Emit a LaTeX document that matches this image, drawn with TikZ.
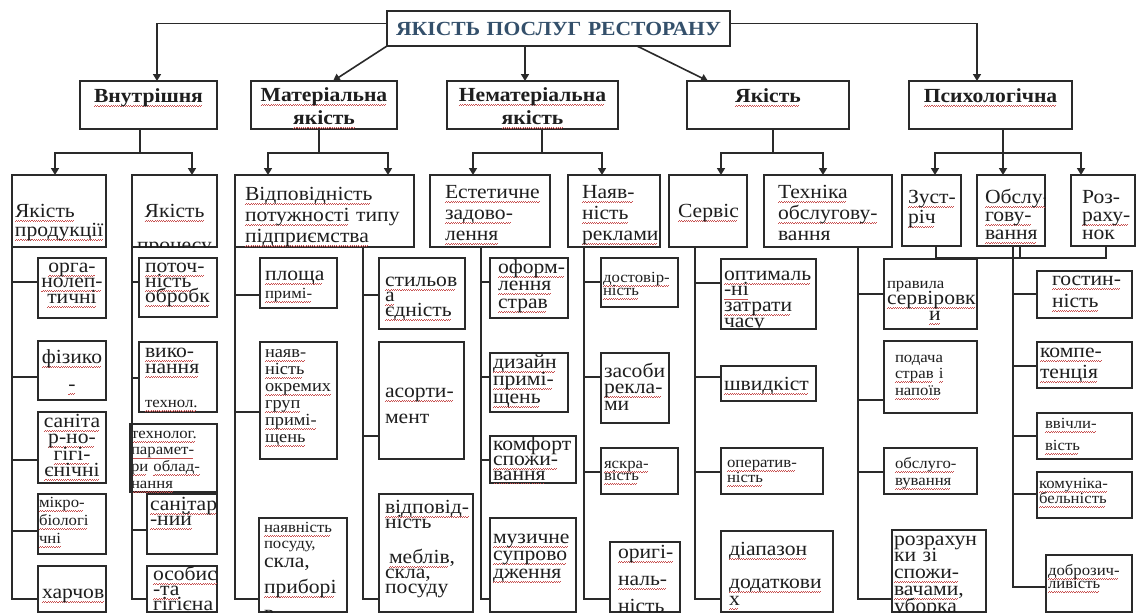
\documentclass[tikz,border=0pt]{standalone}
\usepackage{fontspec}
\setmainfont{Liberation Serif}[FakeStretch=1.08]
\usetikzlibrary{arrows.meta}
\hyphenpenalty=10000
\exhyphenpenalty=10000
\definecolor{lnc}{HTML}{2A2A2A}
\definecolor{txc}{HTML}{1E1E1E}
\definecolor{topc}{HTML}{34506B}
\definecolor{wavc}{HTML}{C85050}
\newcommand\rw[1]{\leavevmode\setbox0\hbox{#1}\rlap{\color{wavc}\leaders\hbox{\rule[-3.9pt]{1.1pt}{0.6pt}\rule[-3.2pt]{1.1pt}{0.6pt}}\hskip\wd0}\box0}
\newcommand\ftb[1]{\fontsize{20}{#1}\selectfont\lineskiplimit=-50pt\relax}
\newcommand\fts[1]{\fontsize{15.5}{#1}\selectfont\lineskiplimit=-50pt\relax}
\newcommand\ftm[1]{\fontsize{17}{#1}\selectfont\lineskiplimit=-50pt\relax}
\newcommand\ftbd[1]{\fontsize{20}{#1}\selectfont\bfseries\lineskiplimit=-50pt\relax}
\tikzset{
  ln/.style={draw=lnc, line width=1.6pt},
  arr/.style={ln, -{Triangle[length=7pt,width=8pt]}},
  bx/.style={draw=lnc, line width=1.5pt, inner sep=0pt, outer sep=0pt},
  txt/.style={anchor=north, inner sep=0pt, align=left, text=txc, font=\ftb{20}}
}
% name, x1, y1, x2, y2, pad, first baseline, options, text
\newcommand\tbx[9]{%
  \pgfmathsetlengthmacro\bw{#4-#2}%
  \pgfmathsetlengthmacro\bh{#5-#3}%
  \pgfmathsetlengthmacro\tw{#4-#2-2*#6}%
  \pgfmathsetlengthmacro\ys{-(#7-#3-18)}%
  \node[bx, minimum width=\bw, minimum height=\bh] (#1) at ({(#2+#4)/2},{(#3+#5)/2}) {};
  \begin{scope}
    \clip (#1.south west) rectangle (#1.north east);
    \node[txt, text width=\tw, yshift=\ys, #8] at (#1.north) {\rule{0pt}{18pt}#9};
  \end{scope}}
\newcommand\brn[3]{\draw[ln] (#1) |- ([yshift=#3pt]#2.west);}
\begin{document}
\begin{tikzpicture}[x=1pt,y=-1pt]
\fill[white] (0,0) rectangle (1137,614);
\useasboundingbox (0,0) rectangle (1137,614);

% level 0
\tbx{top}{387}{11}{730}{46}{4}{35}{align=center,font=\ftbd{22},text=topc}{ЯКІСТЬ ПОСЛУГ РЕСТОРАНУ}
% level 1
\tbx{vn}{80}{81}{217}{129}{4}{102}{align=center,font=\ftbd{23}}{\rw{Внутрішня}}
\tbx{mat}{251}{81}{397}{129}{4}{101}{align=center,font=\ftbd{23}}{\rw{Матеріальна}\\\rw{якість}}
\tbx{nemat}{447}{81}{618}{129}{4}{101}{align=center,font=\ftbd{23}}{\rw{Нематеріальна}\\\rw{якість}}
\tbx{yak}{687}{81}{849}{129}{4}{102}{align=center,font=\ftbd{23}}{\rw{Якість}}
\tbx{psy}{909}{81}{1072}{129}{4}{102}{align=center,font=\ftbd{23}}{\rw{Психологічна}}
% level 2
\tbx{yp}{12}{175}{106}{247}{3}{217}{font=\ftb{19}}{\rw{Якість}\\\rw{продукції}}
\tbx{ypr}{132}{175}{217}{247}{2}{217}{align=center,font=\ftb{19}}{\rw{Якість}\\[15pt]процесу}
\tbx{vid}{235}{175}{414}{247}{10}{200}{font=\ftb{21}}{\rw{Відповідність}\\\rw{потужності}~типу\\\rw{підприємства}}
\tbx{est}{430}{175}{550}{247}{15}{198}{font=\ftb{21}}{\rw{Естетичне}\\\rw{задово-}\\\rw{лення}}
\tbx{nay}{568}{175}{660}{247}{14}{198}{font=\ftb{21}}{\rw{Наяв-}\\\rw{ність}\\\rw{реклами}}
\tbx{serv}{669}{175}{747}{247}{9}{217}{font=\ftb{21}}{\rw{Сервіс}}
\tbx{tekh}{764}{175}{892}{247}{14}{198}{font=\ftb{21}}{\rw{Техніка}\\\rw{обслугову-}\\вання}
\tbx{zus}{902}{175}{961}{246}{6}{203}{font=\ftb{20}}{\rw{Зуст-}\\\rw{річ}}
\tbx{obs}{977}{175}{1045}{246}{8}{203}{font=\ftb{18}}{\rw{Обслу-}\\\rw{гову-}\\\rw{вання}}
\tbx{roz}{1071}{175}{1135}{246}{11}{203}{font=\ftb{18}}{Роз-\\\rw{раху-}\\нок}
% column 1
\tbx{c1a}{38}{258}{106}{318}{2}{272}{align=center,font=\ftb{15.5}}{\rw{орга-}\\\rw{нолеп-}\\\rw{тичні}}
\tbx{c1b}{38}{341}{106}{400}{2}{363}{align=center,font=\ftb{27}}{\rw{фізико}\\\rw{-}}
\tbx{c1c}{38}{412}{106}{483}{2}{427}{align=center,font=\ftb{16.5}}{\rw{саніта}\\\rw{р-но-}\\\rw{гігі-}\\\rw{єнічні}}
\tbx{c1d}{38}{494}{106}{554}{1}{507}{font=\fts{18}}{\rw{мікро-}\\\rw{біологі}\\\rw{чні}}
\tbx{c1e}{38}{566}{106}{612}{4}{598}{font=\ftb{20}}{\rw{харчов}}
% column 2
\tbx{c2a}{139}{258}{217}{317}{6}{272}{font=\ftb{15}}{\rw{поточ-}\\\rw{ність}\\\rw{обробк}}
\tbx{c2b}{139}{342}{217}{412}{6}{357}{font=\ftb{16}}{\rw{вико-}\\\rw{нання}\\[18pt]{\fts{16}\rw{технол.}}}
\tbx{c2c}{130}{424}{217}{492}{1}{438}{font=\fts{16.7}}{\rw{технолог.}\\\rw{парамет-}\\\rw{ри}~\rw{облад-}\\\rw{нання}}
\tbx{c2d}{147}{494}{217}{554}{3}{510}{font=\ftb{15}}{\rw{санітар}\\\rw{-ний}}
\tbx{c2e}{147}{566}{217}{612}{6}{580}{font=\ftb{15}}{\rw{особис}\\\rw{-та}\\\rw{гігієна}}
% column 3
\tbx{c3a}{260}{258}{337}{308}{5}{280}{font=\ftb{18}}{\rw{площа}\\{\fts{18}\rw{примі-}}}
\tbx{c3b}{260}{342}{337}{459}{5}{357}{font=\ftm{17}}{\rw{наяв-}\\\rw{ність}\\\rw{окремих}\\\rw{груп}\\\rw{примі-}\\\rw{щень}}
\tbx{c3c}{259}{518}{347}{612}{5}{532}{font=\fts{16}}{\rw{наявність}\\посуду,\\[3pt]{\ftb{19}скла,}\\[10pt]{\ftb{19}\rw{приборі}}\\[10pt]{\ftb{19}в}}
\tbx{c3d}{379}{258}{465}{329}{6}{286}{font=\ftb{15}}{\rw{стильов}\\\rw{а}\\\rw{єдність}}
\tbx{c3e}{379}{342}{464}{459}{6}{397}{font=\ftb{26}}{\rw{асорти-}\\мент}
\tbx{c3f}{379}{494}{473}{612}{6}{513}{font=\ftb{15}}{\rw{відповід-}\\ність\\[20pt]\hspace*{4pt}\rw{меблів},\\скла,\\посуду}
% column 4
\tbx{c4a}{490}{258}{568}{318}{8}{273}{font=\ftb{17.5}}{\rw{оформ-}\\\rw{лення}\\\rw{страв}}
\tbx{c4b}{490}{353}{568}{412}{3}{368}{font=\ftb{17.5}}{\rw{дизайн}\\\rw{примі-}\\\rw{щень}}
\tbx{c4c}{490}{436}{576}{483}{3}{450}{font=\ftb{15}}{комфорт\\\rw{спожи-}\\\rw{вання}}
\tbx{c4d}{490}{518}{576}{612}{3}{543}{font=\ftb{17.5}}{\rw{музичне}\\\rw{супрово}\\\rw{дження}}
% column 5
\tbx{c5a}{601}{258}{678}{307}{2}{282}{font=\fts{13}}{\rw{достовір-}\\\rw{ність}}
\tbx{c5b}{601}{353}{669}{423}{3}{377}{font=\ftb{16.5}}{засоби\\\rw{рекла-}\\ми}
\tbx{c5c}{601}{448}{678}{494}{3}{468}{font=\fts{12}}{\rw{яскра-}\\\rw{вість}}
\tbx{c5d}{610}{542}{680}{612}{8}{558}{font=\ftb{27}}{\rw{оригі-}\\\rw{наль-}\\\rw{ність}}
% column 6
\tbx{c6a}{721}{259}{816}{329}{3}{280}{font=\ftb{15.7}}{\rw{оптималь}\\\rw{-ні}\\\rw{затрати}\\часу}
\tbx{c6b}{721}{366}{816}{401}{3}{390}{font=\ftb{20}}{\rw{швидкіст}}
\tbx{c6c}{721}{448}{823}{494}{6}{467}{font=\fts{15}}{\rw{оператив-}\\\rw{ність}}
\tbx{c6d}{721}{531}{833}{612}{8}{555}{font=\ftb{17}}{\rw{діапазон}\\[16pt]\rw{додаткови}\\\rw{х}}
% column 7
\tbx{c7a}{884}{259}{977}{329}{3}{288}{font=\ftb{16}}{{\fts{16}правила}\\\rw{сервіровк}\\\hspace*{42pt}\rw{и}}
\tbx{c7b}{884}{341}{977}{413}{11}{362}{font=\fts{16.5}}{подача\\\rw{страв}~\rw{і}\\\rw{напоїв}}
\tbx{c7c}{884}{448}{977}{494}{11}{468}{font=\fts{17}}{\rw{обслуго-}\\\rw{вування}}
\tbx{c7d}{892}{530}{986}{612}{2}{545}{font=\ftb{16.7}}{розрахун\\ки~зі\\\rw{спожи-}\\\rw{вачами},\\уборка}
% column 8
\tbx{c8a}{1037}{271}{1132}{318}{15}{285}{font=\ftb{22}}{\rw{гостин-}\\\rw{ність}}
\tbx{c8b}{1037}{342}{1132}{388}{3}{357}{font=\ftb{21}}{\rw{компе-}\\\rw{тенція}}
\tbx{c8c}{1037}{413}{1132}{459}{8}{428}{font=\fts{22}}{\rw{ввічли-}\\\rw{вість}}
\tbx{c8d}{1037}{472}{1132}{518}{2}{488}{font=\fts{15}}{\rw{комуніка-}\\\rw{бельність}}
\tbx{c8e}{1046}{555}{1132}{612}{2}{575}{font=\fts{13}}{\rw{доброзич-}\\\rw{ливість}}

% level 0 -> 1
\coordinate (nn) at ([xshift=-7.5pt]nemat.north);
\draw[arr] ([yshift=5pt]top.west) -| ([xshift=8.5pt]vn.north);
\draw[arr] (top.south west) -- ([xshift=9pt]mat.north);
\draw[arr] (top.south -| nn) -- (nn);
\draw[arr] ([xshift=78.5pt]top.south) -- ([xshift=-60pt]yak.north);
\draw[arr] ([yshift=5pt]top.east) -| ([xshift=-13.5pt]psy.north);

% level 1 -> 2
\draw[ln] ([xshift=-8.5pt]vn.south) -- ++(0,24) coordinate (vnb);
\draw[arr] (vnb) -| ([xshift=-4pt]yp.north);
\draw[arr] (vnb) -| ([xshift=17.5pt]ypr.north);
\draw[ln] ([xshift=-5pt]mat.south) -- ++(0,24) coordinate (matb);
\draw[arr] (matb) -| ([xshift=-56.5pt]vid.north);
\draw[arr] (matb) -| ([xshift=63.5pt]vid.north);
\draw[ln] ([xshift=9.5pt]nemat.south) -- ++(0,24) coordinate (nemb);
\draw[arr] (nemb) -| ([xshift=-17pt]est.north);
\draw[arr] (nemb) -| ([xshift=-12pt]nay.north);
\draw[ln] ([xshift=5pt]yak.south) -- ++(0,24) coordinate (yakb);
\draw[arr] (yakb) -| ([xshift=13pt]serv.north);
\draw[arr] (yakb) -| ([xshift=-5pt]tekh.north);
\draw[ln] ([xshift=12.5pt]psy.south) -- ++(0,24) coordinate (psyb);
\draw[arr] (psyb) -| ([xshift=3.5pt]zus.north);
\draw[arr] (psyb) -- ([xshift=-8pt]obs.north);
\draw[arr] (psyb) -| ([xshift=-22pt]roz.north);

% level 2 -> 3
\coordinate (s1) at (yp.south west);
\coordinate (s2) at (ypr.south west);
\coordinate (s3) at (vid.south west);
\coordinate (s4) at ([xshift=38.5pt]vid.south);
\coordinate (s5) at ([xshift=-9pt]est.south);
\coordinate (s6) at ([xshift=-30pt]nay.south);
\coordinate (s7) at ([xshift=-13pt]serv.south);
\coordinate (s8) at ([xshift=30pt]tekh.south);
\coordinate (s9) at ([xshift=2pt]obs.south);

\brn{s1}{c1a}{6} \brn{s1}{c1b}{-6.5} \brn{s1}{c1c}{-12.5} \brn{s1}{c1d}{-7} \brn{s1}{c1e}{-10}
\brn{s2}{c2a}{5.5} \brn{s2}{c2b}{-1} \brn{s2}{c2c}{10} \brn{s2}{c2d}{-6} \brn{s2}{c2e}{-10}
\brn{s3}{c3a}{-12} \brn{s3}{c3b}{-11.5} \brn{s3}{c3c}{-34}
\brn{s4}{c3d}{-1.5} \brn{s4}{c3e}{-35.5} \brn{s4}{c3f}{-46}
\brn{s5}{c4a}{6} \brn{s5}{c4b}{5.5} \brn{s5}{c4c}{-0.5} \brn{s5}{c4d}{-34}
\brn{s6}{c5a}{0.5} \brn{s6}{c5b}{11} \brn{s6}{c5c}{-1} \brn{s6}{c5d}{-22}
\brn{s7}{c6a}{11} \brn{s7}{c6b}{6.5} \brn{s7}{c6c}{-1} \brn{s7}{c6d}{-27.5}
\brn{s8}{c7a}{0} \brn{s8}{c7b}{-23} \brn{s8}{c7c}{-1} \brn{s8}{c7d}{-28}
\brn{s9}{c8a}{0.5} \brn{s9}{c8b}{-1} \brn{s9}{c8c}{0} \brn{s9}{c8d}{1} \brn{s9}{c8e}{-3.5}

\draw[ln] ([xshift=4.5pt]zus.south) -- ++(0,12) -| ([xshift=3pt]roz.south);
\draw[ln] ([xshift=9pt]obs.south) -- ++(0,12);
\end{tikzpicture}
\end{document}
